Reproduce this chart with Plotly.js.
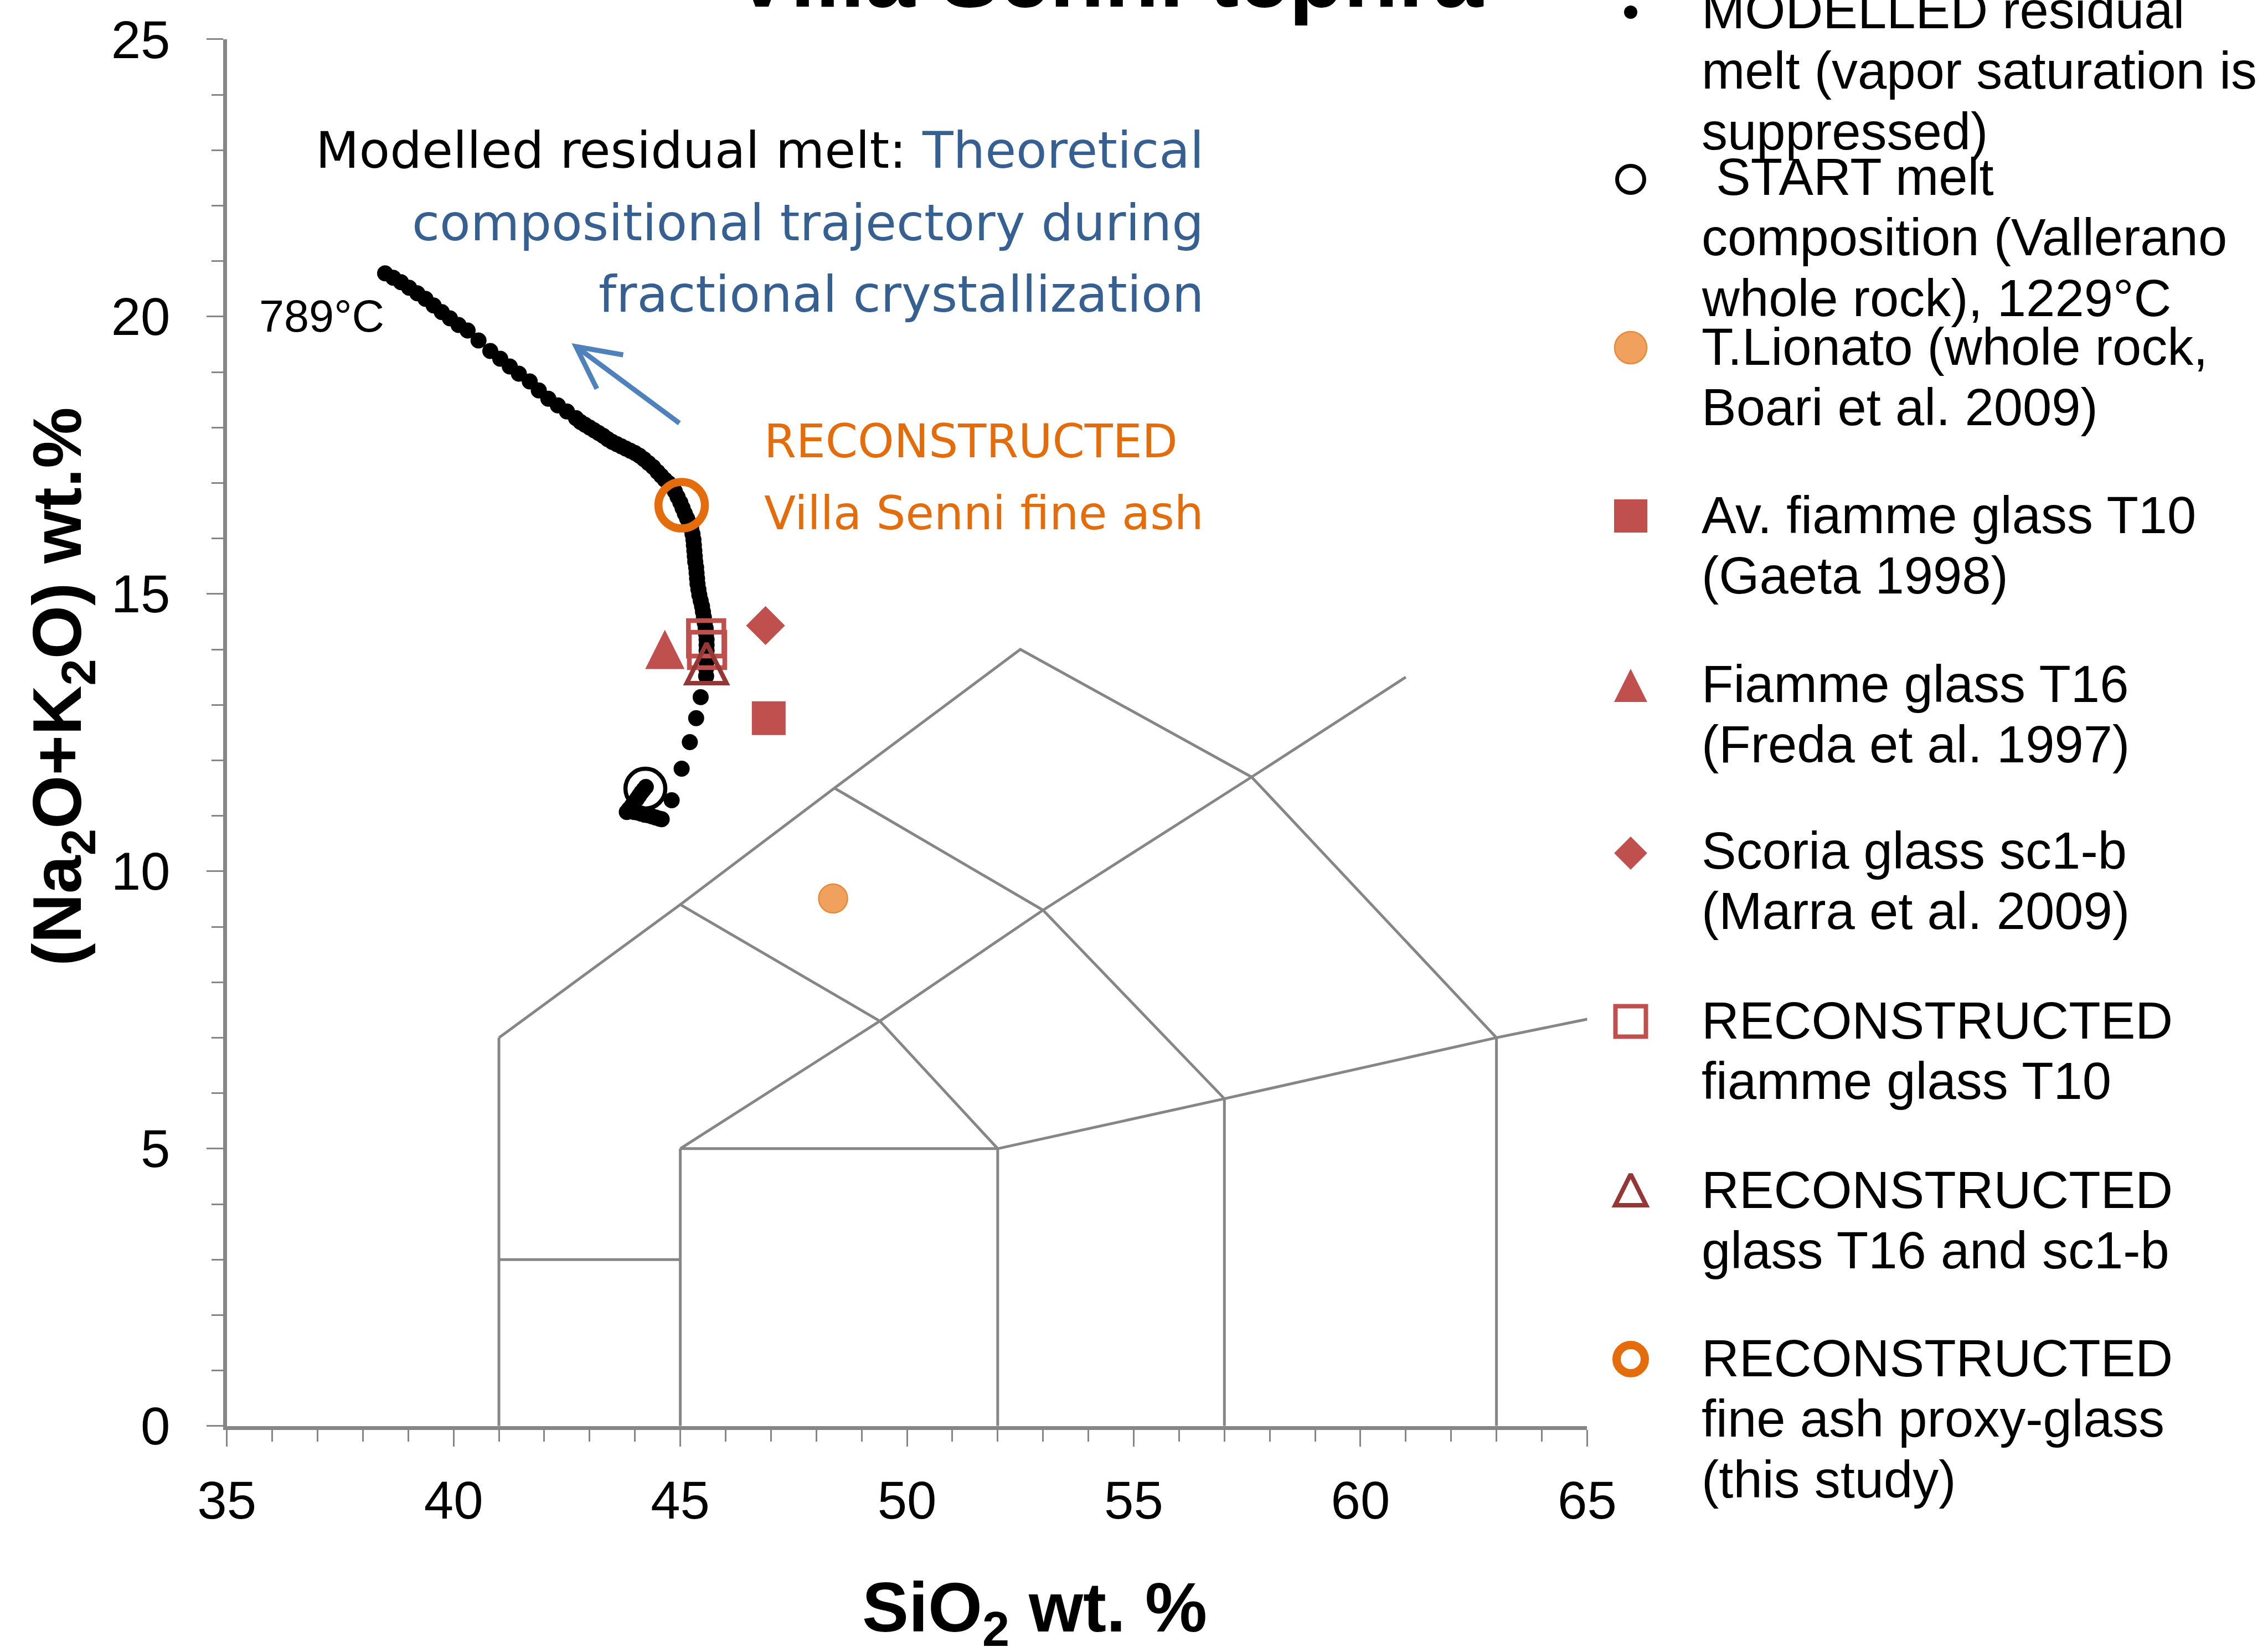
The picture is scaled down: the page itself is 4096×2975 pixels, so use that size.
<!DOCTYPE html>
<html>
<head>
<meta charset="utf-8">
<script src="https://cdn.plot.ly/plotly-3.0.1.min.js"></script>
<style>
  html, body { margin: 0; padding: 0; background: #ffffff; }
  #chart { width: 4096px; height: 2975px; }
</style>
</head>
<body>
<div id="chart"></div>
<script>
// ---------------------------------------------------------------
// TAS (total alkali vs silica) field boundaries, segments split by null
const tasSiO2 = [41, 41, null, 41, 45, null, 45, 45, null,
                 41, 45, 48.4, 52.5, 57.6, 63, null,
                 45, 52, 57, 63, 65.1, null,
                 52, 52, null, 57, 57, null, 63, 63, null,
                 45, 49.4, 53, 57.6, 61, null,
                 45, 49.4, 52, null,
                 48.4, 53, 57];
const tasAlk  = [0, 7, null, 3, 3, null, 0, 5, null,
                 7, 9.4, 11.5, 14, 11.7, 7, null,
                 5, 5, 5.9, 7, 7.35, null,
                 0, 5, null, 0, 5.9, null, 0, 7, null,
                 5, 7.3, 9.3, 11.7, 13.5, null,
                 9.4, 7.3, 5, null,
                 11.5, 9.3, 5.9];

// Modelled residual melt (fractional crystallization, 1229 °C -> 789 °C)
const meltSiO2 = [44.24, 44.19, 44.14, 44.09, 44.04, 43.98, 43.93, 43.87, 43.82,
                  43.90, 43.98, 44.06, 44.14, 44.22, 44.30, 44.38, 44.46, 44.54, 44.59,
                  44.81, 45.03, 45.21, 45.35, 45.45, 45.57, 45.57,
                  45.58, 45.58, 45.58, 45.58, 45.58, 45.57, 45.56, 45.54, 45.52, 45.50,
                  45.48, 45.45, 45.42, 45.40, 45.38, 45.37, 45.36, 45.35, 45.33, 45.32,
                  45.31, 45.30, 45.29, 45.27, 45.24, 45.20, 45.15, 45.10, 45.05, 45.00,
                  44.94, 44.88, 44.82, 44.74, 44.66, 44.58, 44.50, 44.40, 44.30, 44.20,
                  44.10, 44.00, 43.90, 43.80, 43.70, 43.60, 43.50, 43.40, 43.30, 43.20,
                  43.10, 43.00, 42.90, 42.80, 42.70, 42.50, 42.30, 42.09, 41.88, 41.68,
                  41.44, 41.24, 41.03, 40.81, 40.55, 40.31, 40.11, 39.92, 39.74, 39.56,
                  39.38, 39.20, 39.02, 38.84, 38.67, 38.49];
const meltAlk  = [11.52, 11.47, 11.42, 11.36, 11.30, 11.24, 11.18, 11.12, 11.07,
                  11.09, 11.07, 11.06, 11.04, 11.02, 11.01, 10.99, 10.97, 10.95, 10.94,
                  11.28, 11.85, 12.33, 12.76, 13.14, 13.52, 13.66,
                  13.78, 13.88, 13.98, 14.08, 14.18, 14.28, 14.38, 14.48, 14.58, 14.68,
                  14.78, 14.88, 14.98, 15.08, 15.18, 15.28, 15.38, 15.48, 15.58, 15.68,
                  15.78, 15.88, 15.98, 16.08, 16.18, 16.27, 16.36, 16.45, 16.55, 16.65,
                  16.75, 16.85, 16.93, 17.00, 17.06, 17.13, 17.20, 17.29, 17.36, 17.43,
                  17.49, 17.54, 17.58, 17.62, 17.66, 17.70, 17.74, 17.79, 17.85, 17.90,
                  17.95, 18.00, 18.05, 18.10, 18.17, 18.29, 18.40, 18.52, 18.67, 18.83,
                  18.97, 19.10, 19.24, 19.38, 19.57, 19.75, 19.85, 19.97, 20.08, 20.20,
                  20.32, 20.42, 20.52, 20.62, 20.70, 20.78];

// Start melt composition (Vallerano whole rock)
const startSiO2 = [44.23];
const startAlk  = [11.49];
// T.Lionato whole rock (Boari et al. 2009)
const lionatoSiO2 = [48.37];
const lionatoAlk  = [9.51];
// Av. fiamme glass T10 (Gaeta 1998)
const fiammeT10SiO2 = [46.95];
const fiammeT10Alk  = [12.76];
// Fiamme glass T16 (Freda et al. 1997)
const fiammeT16SiO2 = [44.66];
const fiammeT16Alk  = [14.0];
// Scoria glass sc1-b (Marra et al. 2009)
const scoriaSiO2 = [46.88];
const scoriaAlk  = [14.43];
// Reconstructed fiamme glass T10
const reconT10SiO2 = [45.57, 45.59];
const reconT10Alk  = [14.2, 13.99];
// Reconstructed glass T16 and sc1-b
const reconT16SiO2 = [45.58];
const reconT16Alk  = [13.75];
// Reconstructed fine ash proxy-glass
const fineAshSiO2 = [45.03];
const fineAshAlk  = [16.6];

const xTickVals = [35, 40, 45, 50, 55, 60, 65];
const yTickVals = [0, 5, 10, 15, 20, 25];

const legendLabels = [
  ['MODELLED residual', 'melt (vapor saturation is', 'suppressed)'],
  ['\u00a0START melt', 'composition (Vallerano', 'whole rock), 1229\u00b0C'],
  ['T.Lionato (whole rock,', 'Boari et al. 2009)'],
  ['Av. fiamme glass T10', '(Gaeta 1998)'],
  ['Fiamme glass T16', '(Freda et al. 1997)'],
  ['Scoria glass sc1-b', '(Marra et al. 2009)'],
  ['RECONSTRUCTED', 'fiamme glass T10'],
  ['RECONSTRUCTED', 'glass T16 and sc1-b'],
  ['RECONSTRUCTED', 'fine ash proxy-glass', '(this study)']
];

// ---------------------------------------------------------------
const W = 4096, H = 2975;
const ARIAL = '"Liberation Sans", Arial, sans-serif';
const WIDE = '"DejaVu Sans", Verdana, sans-serif';
const GRAY = '#868686';
const RED = '#C0504D';
const DARKRED = '#953735';
const ORANGE = '#E46C0A';
const BLUE = '#4F81BD';
const DARKBLUE = '#376092';

// plot area in page pixels
const box = { left: 409.7, right: 2866.4, top: 70.9, bottom: 2575.8 };

// marker styles: [plot marker, legend glyph]
const styles = {
  melt:     [{ symbol: 'circle', size: 29, color: '#000' },
             { symbol: 'circle', size: 24, color: '#000' }],
  start:    [{ symbol: 'circle-open', size: 72, color: '#000', line: { color: '#000', width: 7.5 } },
             { symbol: 'circle-open', size: 49, color: '#000', line: { color: '#000', width: 7 } }],
  lionato:  [{ symbol: 'circle', size: 52, color: '#F0A15E', line: { color: '#E8893A', width: 2.5 } },
             { symbol: 'circle', size: 58, color: '#F0A15E', line: { color: '#E8893A', width: 2.5 } }],
  fT10:     [{ symbol: 'square', size: 61, color: RED, line: { width: 0 } },
             { symbol: 'square', size: 60, color: RED, line: { width: 0 } }],
  fT16:     [{ symbol: 'arrow-down', angle: 180, standoff: 35.5, size: 71, color: RED, line: { width: 0 } },
             { symbol: 'arrow-down', angle: 180, standoff: 30, size: 60, color: RED, line: { width: 0 } }],
  scoria:   [{ symbol: 'diamond', size: 54, color: RED, line: { width: 0 } },
             { symbol: 'diamond', size: 46, color: RED, line: { width: 0 } }],
  rT10:     [{ symbol: 'square-open', size: 64, color: RED, line: { color: RED, width: 8.5 } },
             { symbol: 'square-open', size: 55, color: RED, line: { color: RED, width: 8 } }],
  rT16:     [{ symbol: 'arrow-down-open', angle: 180, standoff: 36, size: 72, color: DARKRED, line: { color: DARKRED, width: 8 } },
             { symbol: 'arrow-down-open', angle: 180, standoff: 28, size: 56, color: DARKRED, line: { color: DARKRED, width: 8 } }],
  fineAsh:  [{ symbol: 'circle-open', size: 84, color: ORANGE, line: { color: ORANGE, width: 14.5 } },
             { symbol: 'circle-open', size: 51, color: ORANGE, line: { color: ORANGE, width: 15 } }]
};

const traces = [];
traces.push({
  x: tasSiO2, y: tasAlk, type: 'scatter', mode: 'lines',
  line: { color: GRAY, width: 5 }, connectgaps: false,
  hoverinfo: 'skip', showlegend: false, cliponaxis: false
});

function pts(xs, ys, key) {
  return { x: xs, y: ys, type: 'scatter', mode: 'markers', marker: styles[key][0],
           hoverinfo: 'skip', showlegend: false, cliponaxis: false };
}
traces.push(pts(startSiO2, startAlk, 'start'));
traces.push(pts(meltSiO2, meltAlk, 'melt'));
traces.push(pts(lionatoSiO2, lionatoAlk, 'lionato'));
traces.push(pts(fiammeT10SiO2, fiammeT10Alk, 'fT10'));
traces.push(pts(fiammeT16SiO2, fiammeT16Alk, 'fT16'));
traces.push(pts(scoriaSiO2, scoriaAlk, 'scoria'));
traces.push(pts(reconT10SiO2, reconT10Alk, 'rT10'));
traces.push(pts(reconT16SiO2, reconT16Alk, 'rT16'));
traces.push(pts(fineAshSiO2, fineAshAlk, 'fineAsh'));

// ---- legend drawn on a page-pixel overlay axis pair ----
const legendOrder = ['melt', 'start', 'lionato', 'fT10', 'fT16', 'scoria', 'rT10', 'rT16', 'fineAsh'];
const legendGlyphX = 2945, legendTextX = 3072, legendLineStep = 109.5;
const legendGlyphY = [22, 324, 628, 932, 1238, 1541, 1845, 2149, 2455];
const legendTextY0 = [18, 319, 626, 930, 1235, 1536, 1843, 2149, 2453];

const annotations = [];
function txt(x, y, text, extra) {
  return Object.assign({
    xref: 'x2', yref: 'y2', x: x, y: y, text: text, showarrow: false,
    xanchor: 'left', yanchor: 'middle', borderpad: 0,
    font: { family: ARIAL, size: 94, color: '#000' }
  }, extra || {});
}

legendOrder.forEach(function (key, i) {
  traces.push({
    x: [legendGlyphX], y: [legendGlyphY[i]], xaxis: 'x2', yaxis: 'y2',
    type: 'scatter', mode: 'markers', marker: styles[key][1],
    hoverinfo: 'skip', showlegend: false, cliponaxis: false
  });
  legendLabels[i].forEach(function (line, j) {
    annotations.push(txt(legendTextX, legendTextY0[i] + j * legendLineStep, line));
  });
});

// chart title (runs off the top edge)
annotations.push(txt(2001, 1 + 45 / H, '<b>Villa Senni tephra</b>',
  { yref: 'paper', xanchor: 'center', font: { family: ARIAL, size: 162, color: '#000' } }));

// axis titles
annotations.push(txt(1868, 2912, '<b>SiO<sub>2</sub> wt. %</b>',
  { xanchor: 'center', font: { family: ARIAL, size: 126, color: '#000' } }));
annotations.push(txt(112, 1241, '<b>(Na<sub>2</sub>O+K<sub>2</sub>O) wt.%</b>',
  { xanchor: 'center', textangle: -90, font: { family: ARIAL, size: 124, color: '#000' } }));

// in-plot notes
const noteFont = { family: WIDE, size: 91, color: DARKBLUE };
annotations.push(txt(2175, 271, '<span style="color:#000">Modelled residual melt: </span>Theoretical',
  { xanchor: 'right', font: noteFont }));
annotations.push(txt(2175, 402, 'compositional trajectory during', { xanchor: 'right', font: noteFont }));
annotations.push(txt(2175, 531, 'fractional crystallization', { xanchor: 'right', font: noteFont }));

const orangeFont = { family: WIDE, size: 83.5, color: ORANGE };
annotations.push(txt(1379, 797, 'RECONSTRUCTED', { font: orangeFont }));
annotations.push(txt(1379, 927, 'Villa Senni fine ash', { font: orangeFont }));

annotations.push(txt(467, 571, '789\u00b0C', { font: { family: ARIAL, size: 81, color: '#000' } }));

// direction of the modelled trajectory
const shapes = [{
  type: 'path', xref: 'x', yref: 'y',
  path: 'M44.98,18.08 L42.70,19.46 M43.74,19.31 L42.70,19.46 L43.16,18.70',
  line: { color: BLUE, width: 9 }
}];

const axisCommon = {
  ticks: 'outside', ticklen: 30, tickwidth: 3, tickcolor: GRAY,
  showline: true, linecolor: GRAY, linewidth: 7,
  showgrid: false, zeroline: false, fixedrange: true,
  tickfont: { family: ARIAL, size: 96, color: '#000' },
  minor: { dtick: 1, ticks: 'outside', ticklen: 21, tickwidth: 3, tickcolor: GRAY, showgrid: false }
};

const layout = {
  width: W, height: H,
  margin: { l: 0, r: 0, t: 0, b: 0, pad: 0 },
  paper_bgcolor: '#ffffff', plot_bgcolor: 'rgba(0,0,0,0)',
  showlegend: false,
  xaxis: Object.assign({}, axisCommon, {
    domain: [box.left / W, box.right / W], range: [35, 65],
    tickmode: 'array', tickvals: xTickVals, ticktext: xTickVals.map(String),
    anchor: 'y', ticklabelstandoff: 15
  }),
  yaxis: Object.assign({}, axisCommon, {
    domain: [1 - box.bottom / H, 1 - box.top / H], range: [0, 25],
    tickmode: 'array', tickvals: yTickVals, ticktext: yTickVals.map(String),
    anchor: 'x', ticklabelstandoff: 46
  }),
  xaxis2: { domain: [0, 1], range: [0, W], visible: false, anchor: 'y2', fixedrange: true },
  yaxis2: { domain: [0, 1], range: [H, 0], visible: false, anchor: 'x2', fixedrange: true },
  annotations: annotations,
  shapes: shapes
};

Plotly.newPlot('chart', traces, layout, { displayModeBar: false, staticPlot: true });
</script>
</body>
</html>
